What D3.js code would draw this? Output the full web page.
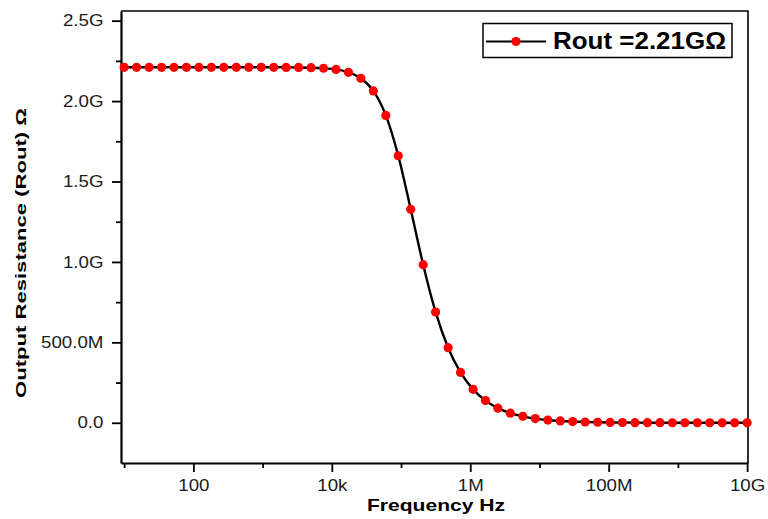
<!DOCTYPE html>
<html>
<head>
<meta charset="utf-8">
<script src="https://cdn.jsdelivr.net/npm/d3@7"></script>
<style>
  body { margin: 0; background: #fff; }
  svg { display: block; font-family: "Liberation Sans", Arial, sans-serif; }
</style>
</head>
<body>
<div id="chart"></div>
<script>
const WIDTH = 768;
const HEIGHT = 519;
const PLOT = {left: 121, top: 11, right: 748, bottom: 463};

// frequency sweep, Hz
const freqs = [
  10, 15.1, 22.9, 34.7, 52.5, 79.4, 120, 182, 275, 417,
  631, 955, 1.45e3, 2.19e3, 3.31e3, 5.01e3, 7.59e3, 1.15e4, 1.74e4, 2.63e4,
  3.98e4, 6.03e4, 9.12e4, 1.38e5, 2.09e5, 3.16e5, 4.79e5, 7.24e5, 1.10e6, 1.66e6,
  2.51e6, 3.80e6, 5.75e6, 8.71e6, 1.32e7, 2.00e7, 3.02e7, 4.57e7, 6.92e7, 1.05e8,
  1.58e8, 2.40e8, 3.63e8, 5.50e8, 8.32e8, 1.26e9, 1.91e9, 2.88e9, 4.37e9, 6.61e9,
  1.0e10
];
// output resistance, ohm (in G)
const routG = [
  2.21, 2.21, 2.21, 2.21, 2.21, 2.21, 2.21, 2.21, 2.21, 2.21,
  2.21, 2.21, 2.21, 2.2095, 2.209, 2.2075, 2.204, 2.197, 2.179, 2.142,
  2.063, 1.911, 1.660, 1.327, 0.983, 0.688, 0.467, 0.313, 0.208, 0.138,
  0.091, 0.060, 0.040, 0.026, 0.017, 0.0115, 0.0076, 0.0050, 0.0033, 0.0022,
  0.00145, 0.00096, 0.00063, 0.00042, 0.00028, 0.00018, 0.00012, 0.00008, 0.00005, 0.00003,
  0.00002
];

const xMajor = [1e2, 1e4, 1e6, 1e8, 1e10];
const xMajorLabels = ['100', '10k', '1M', '100M', '10G'];
const xMinor = [1e1, 1e3, 1e5, 1e7, 1e9];
const yMajor = [0, 0.5e9, 1.0e9, 1.5e9, 2.0e9, 2.5e9];
const yMajorLabels = ['0.0', '500.0M', '1.0G', '1.5G', '2.0G', '2.5G'];
const yMinor = [0.25e9, 0.75e9, 1.25e9, 1.75e9, 2.25e9];

const legendLabel = 'Rout =2.21G\u03A9';

let data = freqs.map((f, i) => ({f: f, r: routG[i] * 1e9}));

let svg = d3.select('#chart').append('svg')
    .attr('width', WIDTH)
    .attr('height', HEIGHT);

let x = d3.scaleLog()
    .domain([9.0, 1.03e10])
    .range([PLOT.left, PLOT.right]);
let y = d3.scaleLinear()
    .domain([-0.25e9, 2.56e9])
    .range([PLOT.bottom, PLOT.top]);

// frame top/right
svg.append('path')
    .attr('d', `M${PLOT.left},${PLOT.top}H${PLOT.right}V${PLOT.bottom}`)
    .attr('fill', 'none')
    .attr('stroke', '#000')
    .attr('stroke-width', 1.6);

// x axis
svg.append('g')
    .attr('transform', `translate(0,${PLOT.bottom})`)
    .call(d3.axisBottom(x).tickValues(xMajor)
        .tickFormat((d, i) => xMajorLabels[i]).tickSizeInner(9).tickSizeOuter(0).tickPadding(8));
svg.append('g')
    .attr('transform', `translate(0,${PLOT.bottom})`)
    .call(d3.axisBottom(x).tickValues(xMinor).tickFormat('').tickSizeInner(5).tickSizeOuter(0))
    .call(g => g.select('.domain').remove());

// y axis
svg.append('g')
    .attr('transform', `translate(${PLOT.left},0)`)
    .call(d3.axisLeft(y).tickValues(yMajor)
        .tickFormat((d, i) => yMajorLabels[i]).tickSizeInner(9).tickSizeOuter(0).tickPadding(6));
svg.append('g')
    .attr('transform', `translate(${PLOT.left},0)`)
    .call(d3.axisLeft(y).tickValues(yMinor).tickFormat('').tickSizeInner(5).tickSizeOuter(0))
    .call(g => g.select('.domain').remove());

svg.selectAll('.domain').attr('stroke-width', 2.2);
svg.selectAll('.tick line').attr('stroke-width', 1.8);
// the source's labels are drawn a bit wide
svg.selectAll('.tick text')
    .attr('font-size', 16)
    .attr('fill', '#1a1a1a')
    .attr('font-family', '"Liberation Sans", Arial, sans-serif')
    .attr('transform', 'scale(1.17,1)');

// axis titles
svg.append('text')
    .attr('x', 436)
    .attr('y', 511)
    .attr('text-anchor', 'middle')
    .attr('font-size', 17)
    .attr('font-weight', 'bold')
    .attr('textLength', 138)
    .attr('lengthAdjust', 'spacingAndGlyphs')
    .text('Frequency Hz');
svg.append('text')
    .attr('transform', 'translate(26,253) rotate(-90)')
    .attr('text-anchor', 'middle')
    .attr('font-size', 15.5)
    .attr('font-weight', 'bold')
    .attr('textLength', 290)
    .attr('lengthAdjust', 'spacingAndGlyphs')
    .text('Output Resistance (Rout) \u03A9');

// curve
let line = d3.line()
    .x(d => x(d.f))
    .y(d => y(d.r))
    .curve(d3.curveMonotoneX);
svg.append('path')
    .datum(data)
    .attr('fill', 'none')
    .attr('stroke', '#000')
    .attr('stroke-width', 2.4)
    .attr('d', line);

svg.append('g').selectAll('circle')
    .data(data)
    .join('circle')
    .attr('cx', d => x(d.f))
    .attr('cy', d => y(d.r))
    .attr('r', 4.6)
    .attr('fill', '#ff0000');

// legend
let legend = svg.append('g');
legend.append('rect')
    .attr('x', 483).attr('y', 23.5)
    .attr('width', 249).attr('height', 34)
    .attr('fill', '#fff')
    .attr('stroke', '#000')
    .attr('stroke-width', 1.5);
legend.append('line')
    .attr('x1', 486).attr('x2', 546)
    .attr('y1', 41.5).attr('y2', 41.5)
    .attr('stroke', '#000')
    .attr('stroke-width', 2.2);
legend.append('circle')
    .attr('cx', 516).attr('cy', 41.5)
    .attr('r', 4.6)
    .attr('fill', '#ff0000');
legend.append('text')
    .attr('x', 553).attr('y', 49)
    .attr('font-size', 23)
    .attr('font-weight', 'bold')
    .attr('textLength', 173)
    .attr('lengthAdjust', 'spacingAndGlyphs')
    .text(legendLabel);
</script>
</body>
</html>
